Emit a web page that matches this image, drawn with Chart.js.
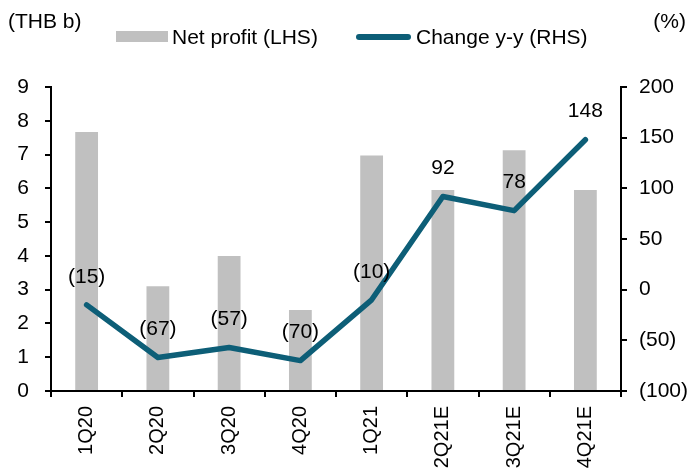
<!DOCTYPE html>
<html>
<head>
<meta charset="utf-8">
<script src="https://cdn.jsdelivr.net/npm/chart.js@4/dist/chart.umd.min.js"></script>
<style>
  html, body { margin: 0; padding: 0; background: #fff; }
  #wrap { width: 690px; height: 472px; position: relative; }
</style>
</head>
<body>
<div id="wrap"><canvas id="chart" width="690" height="472"></canvas></div>
<script>
// data
const quarters = ['1Q20', '2Q20', '3Q20', '4Q20', '1Q21', '2Q21E', '3Q21E', '4Q21E'];
const netProfit = [7.67, 3.1, 4.0, 2.4, 6.97, 5.95, 7.13, 5.95];
const changeYoY = [-15, -67, -57, -70, -10, 92, 78, 148];
const leftTicks = { min: 0, max: 9, step: 1 };
const rightTicks = { min: -100, max: 200, step: 50 };

const FONT = '"Liberation Sans", Arial, sans-serif';
const BAR_COLOR = '#c0c0c0';
const LINE_COLOR = '#0d5e77';

// negatives shown in brackets, e.g. (50)
function fmt(v) {
  return v < 0 ? '(' + Math.abs(v) + ')' : String(v);
}

// labels above line points
const pointLabels = {
  id: 'pointLabels',
  afterDatasetsDraw(chart) {
    const ctx = chart.ctx;
    const meta = chart.getDatasetMeta(1);
    ctx.save();
    ctx.font = '21px ' + FONT;
    ctx.fillStyle = '#000';
    ctx.textAlign = 'center';
    ctx.textBaseline = 'middle';
    meta.data.forEach((pt, i) => {
      ctx.fillText(fmt(changeYoY[i]), pt.x, pt.y - 28);
    });
    ctx.restore();
  }
};

// unit captions + legend along the top
const header = {
  id: 'header',
  afterDraw(chart) {
    const ctx = chart.ctx;
    ctx.save();
    ctx.font = '21px ' + FONT;
    ctx.fillStyle = '#000';
    ctx.textBaseline = 'middle';
    ctx.textAlign = 'left';
    ctx.fillText('(THB b)', 8, 22);
    ctx.textAlign = 'right';
    ctx.fillText('(%)', 686, 22);

    ctx.textAlign = 'left';
    ctx.fillStyle = BAR_COLOR;
    ctx.fillRect(116, 31, 52, 11);
    ctx.fillStyle = '#000';
    ctx.fillText('Net profit (LHS)', 172, 38);

    ctx.strokeStyle = LINE_COLOR;
    ctx.lineWidth = 6;
    ctx.lineCap = 'round';
    ctx.beginPath();
    ctx.moveTo(359, 37);
    ctx.lineTo(408, 37);
    ctx.stroke();
    ctx.fillText('Change y-y (RHS)', 416, 38);
    ctx.restore();
  }
};

const ctx = document.getElementById('chart').getContext('2d');
new Chart(ctx, {
  type: 'bar',
  data: {
    labels: quarters,
    datasets: [{
      type: 'bar',
      label: 'Net profit (LHS)',
      data: netProfit,
      backgroundColor: BAR_COLOR,
      borderWidth: 0,
      barPercentage: 0.32,
      categoryPercentage: 1,
      yAxisID: 'y',
      order: 2
    }, {
      type: 'line',
      label: 'Change y-y (RHS)',
      data: changeYoY,
      borderColor: LINE_COLOR,
      borderWidth: 5.5,
      borderCapStyle: 'round',
      borderJoinStyle: 'round',
      pointRadius: 0,
      tension: 0,
      yAxisID: 'y1',
      order: 1
    }]
  },
  options: {
    responsive: false,
    animation: false,
    layout: { padding: { top: 87, left: 0, right: 0, bottom: 0 } },
    plugins: {
      legend: { display: false },
      tooltip: { enabled: false }
    },
    scales: {
      x: {
        offset: true,
        grid: { offset: true, drawOnChartArea: false, drawTicks: true, tickLength: 6, color: '#000', lineWidth: 2 },
        border: { color: '#000', width: 2 },
        ticks: { color: '#000', font: { family: FONT, size: 20 }, minRotation: 90, maxRotation: 90, padding: 9 },
        afterFit(scale) { scale.height = 81; }
      },
      y: {
        position: 'left',
        min: leftTicks.min,
        max: leftTicks.max,
        grid: { drawOnChartArea: false, drawTicks: true, tickLength: 6, color: '#000', lineWidth: 2 },
        border: { color: '#000', width: 2 },
        ticks: { stepSize: leftTicks.step, color: '#000', font: { family: FONT, size: 21 }, padding: 16 },
        afterFit(scale) { scale.width = 51; }
      },
      y1: {
        position: 'right',
        min: rightTicks.min,
        max: rightTicks.max,
        grid: { drawOnChartArea: false, drawTicks: true, tickLength: 6, color: '#000', lineWidth: 2 },
        border: { color: '#000', width: 2 },
        ticks: { stepSize: rightTicks.step, color: '#000', font: { family: FONT, size: 21 }, padding: 12, callback: v => fmt(v) },
        afterFit(scale) { scale.width = 69; }
      }
    }
  },
  plugins: [pointLabels, header]
});
</script>
</body>
</html>
